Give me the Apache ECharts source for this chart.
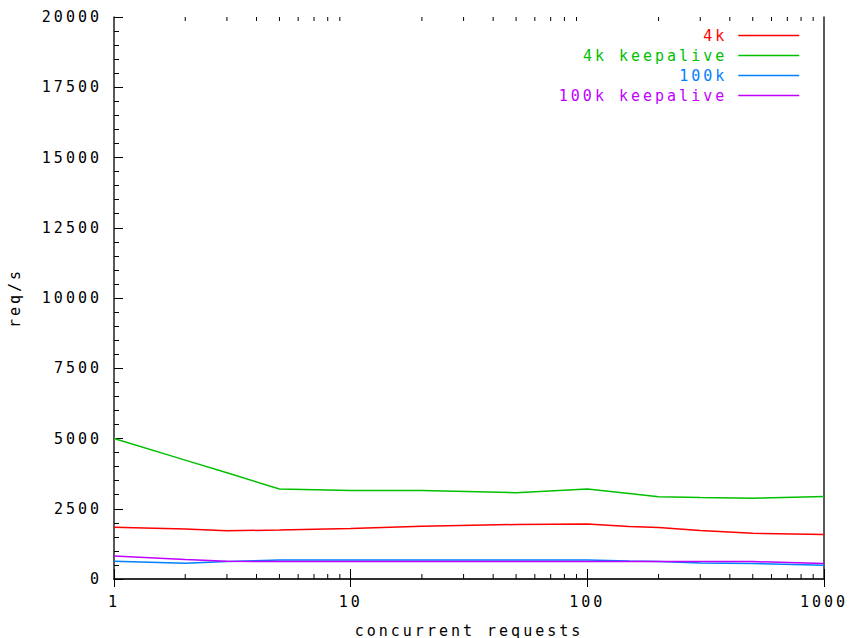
<!DOCTYPE html>
<html>
<head>
<meta charset="utf-8">
<script src="https://cdn.jsdelivr.net/npm/echarts@6/dist/echarts.min.js"></script>
<style>
html, body { margin: 0; padding: 0; background: #fff; }
#main { width: 849px; height: 638px; }
#main svg text { letter-spacing: 3px; }
</style>
</head>
<body>
<div id="main"></div>
<script>
// ---- data ----
const concurrency = [1, 2, 3, 5, 10, 20, 50, 100, 150, 200, 300, 500, 1000];
const fourK        = [1840, 1780, 1720, 1740, 1800, 1880, 1940, 1960, 1870, 1830, 1730, 1630, 1580];
const fourKKeep    = [5000, 4230, 3780, 3200, 3150, 3150, 3070, 3200, 3040, 2930, 2900, 2870, 2940];
const hundredK     = [630, 560, 620, 680, 680, 680, 680, 680, 640, 620, 570, 550, 490];
const hundredKKeep = [820, 690, 630, 620, 620, 620, 620, 620, 620, 620, 620, 620, 550];
const seriesNames  = ['4k', '4k keepalive', '100k', '100k keepalive'];
const seriesColors = ['#ff0000', '#00c000', '#0080ff', '#c000ff'];
const xMinorTicks  = [2,3,4,5,6,7,8,9,20,30,40,50,60,70,80,90,200,300,400,500,600,700,800,900];
const yMin = 0, yMax = 20000, yStep = 2500;
const xTitle = 'concurrent requests';
const yTitle = 'req/s';

const FONT = 'DejaVu Sans Mono';
const chart = echarts.init(document.getElementById('main'), null, { renderer: 'svg' });

const allValues = [fourK, fourKKeep, hundredK, hundredKKeep];
const lineSeries = allValues.map((vals, i) => ({
  name: seriesNames[i],
  type: 'line',
  symbol: 'none',
  silent: true,
  data: concurrency.map((c, j) => [c, vals[j]]),
  lineStyle: { color: seriesColors[i], width: 1.5 },
  itemStyle: { color: seriesColors[i] },
  z: 3 + i
}));

const minorTickSeries = {
  type: 'custom',
  silent: true,
  xAxisIndex: 0,
  yAxisIndex: 0,
  z: 10,
  data: xMinorTicks.map(v => [v, yMin]),
  renderItem: function (params, api) {
    const x = api.value(0);
    const b = api.coord([x, yMin]);
    const t = api.coord([x, yMax]);
    return {
      type: 'group',
      children: [
        { type: 'line', shape: { x1: b[0], y1: b[1], x2: b[0], y2: b[1] - 5 }, style: { stroke: '#000', lineWidth: 1 } },
        { type: 'line', shape: { x1: t[0], y1: t[1], x2: t[0], y2: t[1] + 4 }, style: { stroke: '#000', lineWidth: 1 } }
      ]
    };
  }
};

const legends = seriesNames.map((n, i) => ({
  data: [{ name: n, textStyle: { color: seriesColors[i] } }],
  right: 44,
  top: 23 + 20 * i,
  orient: 'vertical',
  align: 'right',
  itemWidth: 61,
  itemHeight: 14,
  selectedMode: false,
  itemStyle: { opacity: 0 },
  lineStyle: { width: 1.5 },
  textStyle: { fontFamily: FONT, fontSize: 15, padding: [0, 6, 0, 0] }
}));

const axisLineStyle = { show: true, lineStyle: { color: '#222', width: 1.5 } };
const plain = v => String(v);

chart.setOption({
  animation: false,
  backgroundColor: '#fff',
  grid: { left: 114, right: 25, top: 17, bottom: 59, containLabel: false, outerBoundsMode: 'none' },
  legend: legends,
  xAxis: [
    {
      type: 'log', logBase: 10, min: 1, max: 1000, position: 'bottom',
      axisLine: axisLineStyle,
      axisTick: { show: true, inside: true, length: 10, lineStyle: { color: '#000' } },
      minorTick: { show: false },
      splitLine: { show: false },
      axisLabel: { color: '#000', fontFamily: FONT, fontSize: 15, margin: 15, formatter: plain },
      name: xTitle, nameLocation: 'middle', nameGap: 44,
      nameTextStyle: { color: '#000', fontFamily: FONT, fontSize: 15 }
    },
    {
      type: 'log', logBase: 10, min: 1, max: 1000, position: 'top',
      axisLine: axisLineStyle,
      axisTick: { show: true, inside: true, length: 8, lineStyle: { color: '#000' } },
      splitLine: { show: false },
      axisLabel: { show: false }
    }
  ],
  yAxis: [
    {
      type: 'value', min: yMin, max: yMax, interval: yStep, position: 'left',
      axisLine: axisLineStyle,
      axisTick: { show: true, inside: true, length: 9, lineStyle: { color: '#000' } },
      minorTick: { show: true, splitNumber: 5, length: 5, lineStyle: { color: '#000' } },
      splitLine: { show: false },
      axisLabel: { color: '#000', fontFamily: FONT, fontSize: 15, margin: 12, formatter: plain },
      name: yTitle, nameLocation: 'middle', nameGap: 92, nameRotate: 90,
      nameTextStyle: { color: '#000', fontFamily: FONT, fontSize: 15 }
    },
    {
      type: 'value', min: yMin, max: yMax, interval: yStep, position: 'right',
      axisLine: axisLineStyle,
      axisTick: { show: false },
      minorTick: { show: false },
      splitLine: { show: false },
      axisLabel: { show: false }
    }
  ],
  series: lineSeries.concat([minorTickSeries])
});
</script>
</body>
</html>
